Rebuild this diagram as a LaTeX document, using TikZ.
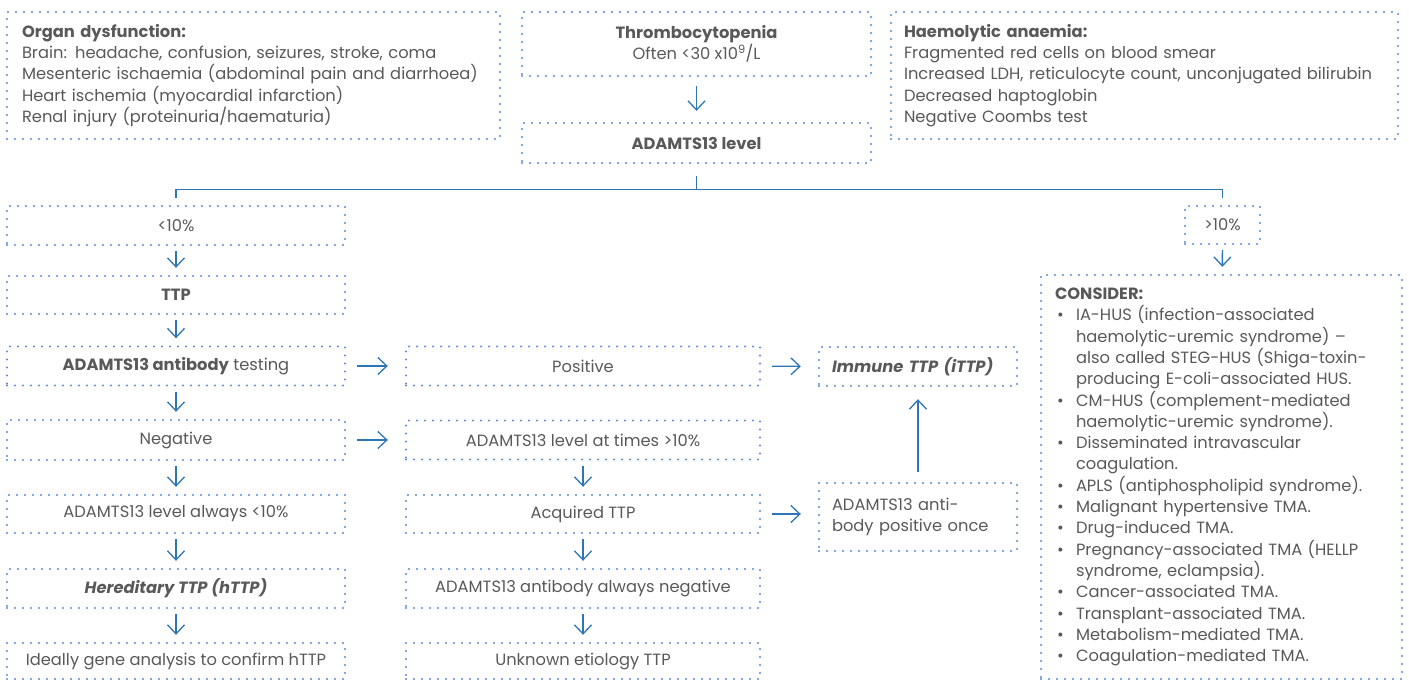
\documentclass[tikz,border=0pt]{standalone}
\usepackage{fontspec}
\setmainfont{Poppins}
\usetikzlibrary{arrows.meta,calc}
\definecolor{dotblue}{HTML}{5A8BD5}
\definecolor{arrblue}{HTML}{2E75B6}
\definecolor{txt}{HTML}{595959}
\begin{document}
\begin{tikzpicture}[x=1pt,y=-1pt,
  font=\fontsize{16.3}{21.3}\selectfont, text=txt,
  box/.style={draw=dotblue, line width=2.4pt, dash pattern=on 0pt off 8pt, line cap=round,
    inner sep=0pt, align=center},
  lbox/.style={box, align=left, inner xsep=#1},
  conn/.style={draw=arrblue, line width=1.3pt},
  arr/.style={conn, -{Straight Barb[length=9pt,width=17pt,line width=1.3pt]}},
  varr/.style={arr, shorten <=5pt, shorten >=7pt},
  harr/.style={arr, shorten <=11pt, shorten >=17pt}]
\useasboundingbox (0,0) rectangle (1409,681);

% top row
\node[lbox=15pt, minimum width=493pt, minimum height=127pt, text width=463pt] (organ) at (253.5,75.5)
 {\textbf{Organ dysfunction:}\\
  Brain: headache, confusion, seizures, stroke, coma\\
  Mesenteric ischaemia (abdominal pain and diarrhoea)\\
  Heart ischemia (myocardial infarction)\\
  Renal injury (proteinuria/haematuria)};
\node[box, minimum width=349pt, minimum height=64pt] (thromb) at (696.5,44)
 {\textbf{Thrombocytopenia}\\ Often <30 x10\textsuperscript{9}/L};
\node[lbox=13pt, minimum width=507pt, minimum height=127pt, text width=481pt] (haemo) at (1144.5,75.5)
 {\textbf{Haemolytic anaemia:}\\
  Fragmented red cells on blood smear\\
  \mbox{Increased LDH, reticulocyte count, unconjugated bilirubin}\\
  Decreased haptoglobin\\
  Negative Coombs test};
\node[box, minimum width=349pt, minimum height=40pt] (adamts) at (696.5,143) {\textbf{ADAMTS13 level}};

% left column
\node[box, minimum width=338pt, minimum height=39pt] (lt10) at (176,225.5) {<10\%};
\node[box, minimum width=338pt, minimum height=38pt] (ttp) at (176,295) {\textbf{TTP}};
\node[box, minimum width=338pt, minimum height=39pt] (abtest) at (176,366) {\textbf{ADAMTS13 antibody} testing};
\node[box, minimum width=338pt, minimum height=40pt] (neg) at (176,440) {Negative};
\node[box, minimum width=338pt, minimum height=38pt] (always) at (176,514) {ADAMTS13 level always <10\%};
\node[box, minimum width=338pt, minimum height=39pt] (hered) at (176,588.5) {\textbf{\textit{Hereditary TTP (hTTP)}}};
\node[box, minimum width=338pt, minimum height=36pt] (ideally) at (176,661) {Ideally gene analysis to confirm hTTP};

% middle column
\node[box, minimum width=354pt, minimum height=39pt] (pos) at (583,366) {Positive};
\node[box, minimum width=354pt, minimum height=39pt] (attimes) at (583,440) {ADAMTS13 level at times >10\%};
\node[box, minimum width=354pt, minimum height=38pt] (acquired) at (583,514) {Acquired TTP};
\node[box, minimum width=354pt, minimum height=39pt] (abneg) at (583,588.5) {ADAMTS13 antibody always negative};
\node[box, minimum width=354pt, minimum height=36pt] (unknown) at (583,661) {Unknown etiology TTP};

% immune column
\node[lbox=13pt, minimum width=198pt, minimum height=39pt, text width=172pt] (immune) at (918,366.5)
 {\textbf{\textit{Immune TTP (iTTP)}}};
\node[lbox=13pt, minimum width=198pt, minimum height=68pt, text width=172pt] (abpos) at (918,517)
 {ADAMTS13 anti-\\body positive once};

% right column
\node[box, minimum width=75pt, minimum height=38pt] (gt10) at (1222.5,225) {>10\%};
\node[lbox=14pt, minimum width=361pt, minimum height=404pt, text width=333pt] (consider) at (1221.5,477)
 {\textbf{CONSIDER:}\\
  \makebox[21pt][l]{\hspace{2pt}\textbullet}IA-HUS (infection-associated\\
  \hspace*{21pt}haemolytic-uremic syndrome) –\\
  \hspace*{21pt}also called STEG-HUS (Shiga-toxin-\\
  \hspace*{21pt}producing E-coli-associated HUS.\\
  \makebox[21pt][l]{\hspace{2pt}\textbullet}CM-HUS (complement-mediated\\
  \hspace*{21pt}haemolytic-uremic syndrome).\\
  \makebox[21pt][l]{\hspace{2pt}\textbullet}Disseminated intravascular\\
  \hspace*{21pt}coagulation.\\
  \makebox[21pt][l]{\hspace{2pt}\textbullet}APLS (antiphospholipid syndrome).\\
  \makebox[21pt][l]{\hspace{2pt}\textbullet}Malignant hypertensive TMA.\\
  \makebox[21pt][l]{\hspace{2pt}\textbullet}Drug-induced TMA.\\
  \makebox[21pt][l]{\hspace{2pt}\textbullet}Pregnancy-associated TMA (HELLP\\
  \hspace*{21pt}syndrome, eclampsia).\\
  \makebox[21pt][l]{\hspace{2pt}\textbullet}Cancer-associated TMA.\\
  \makebox[21pt][l]{\hspace{2pt}\textbullet}Transplant-associated TMA.\\
  \makebox[21pt][l]{\hspace{2pt}\textbullet}Metabolism-mediated TMA.\\
  \makebox[21pt][l]{\hspace{2pt}\textbullet}Coagulation-mediated TMA.};

% branch
\coordinate (bj) at ($(adamts.south)+(0,25)$);
\draw[conn] ($(adamts.south)+(0,12)$) -- (bj);
\draw[conn] ($(lt10.north)+(0,-7)$) -- (lt10.north |- bj) -- (gt10.north |- bj) -- ($(gt10.north)+(0,-7)$);

% arrows
\draw[arr, shorten <=9pt, shorten >=11pt] (thromb) -- (adamts);
\draw[varr] (lt10) -- (ttp);
\draw[varr] (ttp) -- (abtest);
\draw[varr] (abtest) -- (neg);
\draw[varr] (neg) -- (always);
\draw[varr] (always) -- (hered);
\draw[varr] (hered) -- (ideally);
\draw[varr] (attimes) -- (acquired);
\draw[varr] (acquired) -- (abneg);
\draw[varr] (abneg) -- (unknown);
\draw[varr] (gt10) -- (consider);
\draw[harr] (abtest) -- (pos);
\draw[harr] (neg) -- (attimes);
\draw[harr] (pos) -- (immune);
\draw[harr] (acquired.east) -- (acquired.east -| abpos.west);
\draw[arr, shorten <=10pt, shorten >=12pt] (abpos) -- (immune);
\end{tikzpicture}
\end{document}
